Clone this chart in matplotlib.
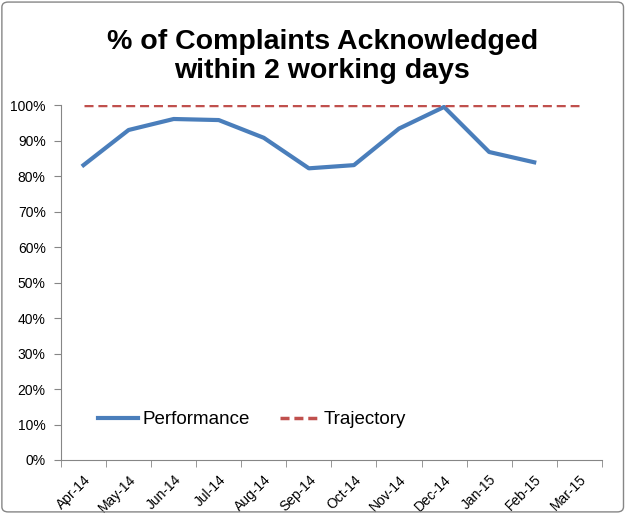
import numpy as np
import matplotlib.pyplot as plt
from matplotlib.patches import FancyBboxPatch
from matplotlib.ticker import PercentFormatter

months = ['Apr-14', 'May-14', 'Jun-14', 'Jul-14', 'Aug-14', 'Sep-14',
          'Oct-14', 'Nov-14', 'Dec-14', 'Jan-15', 'Feb-15', 'Mar-15']
performance = [0.831, 0.930, 0.961, 0.958, 0.908, 0.822,
               0.831, 0.934, 0.995, 0.868, 0.839]
trajectory = [1.0] * 12

plt.rcParams['font.family'] = ['Liberation Sans', 'DejaVu Sans']

fig = plt.figure(figsize=(6.26, 5.15), dpi=100)
ax = fig.add_axes([0.0974, 0.1068, 0.864, 0.689])

x = np.arange(len(months))
ax.plot(x[:len(performance)], performance, color='#4a7ebb', lw=3, label='Performance')
ax.plot(x, trajectory, color='#c0504d', lw=2.5, ls=(0, (2.6, 1.4)), label='Trajectory')

ax.set_xlim(-0.5, len(months) - 0.5)
ax.set_ylim(0, 1)
ax.yaxis.set_major_formatter(PercentFormatter(1.0, decimals=0))
ax.set_yticks(np.arange(0, 1.01, 0.1))

# category labels sit between the tick marks
ax.set_xticks(x)
ax.set_xticklabels(months, rotation=45, ha='right', rotation_mode='anchor', fontsize=10)
ax.set_xticks(np.arange(-0.5, len(months)), minor=True)
ax.tick_params(axis='x', which='major', length=0, pad=9)
ax.tick_params(axis='x', which='minor', length=5, color='#868686')
ax.tick_params(axis='y', length=5, color='#868686', labelsize=10, pad=6)

for s in ['top', 'right']:
    ax.spines[s].set_visible(False)
for s in ['left', 'bottom']:
    ax.spines[s].set_color('#868686')

ax.legend(loc='center left', bbox_to_anchor=(0.038, 0.113), ncol=2, frameon=False,
          fontsize=13.5, handlelength=2.1, handletextpad=0.25, columnspacing=1.6)

fig.text(0.515, 0.89, '% of Complaints Acknowledged\nwithin 2 working days',
         ha='center', va='center', fontsize=20.5, fontweight='bold', linespacing=1.15)

fig.patches.append(FancyBboxPatch((0.003, 0.006), 0.993, 0.99, boxstyle='round,pad=0,rounding_size=0.01',
                                  transform=fig.transFigure, fill=False, ec='#868686', lw=1))

fig.savefig('out.png', dpi=100)
